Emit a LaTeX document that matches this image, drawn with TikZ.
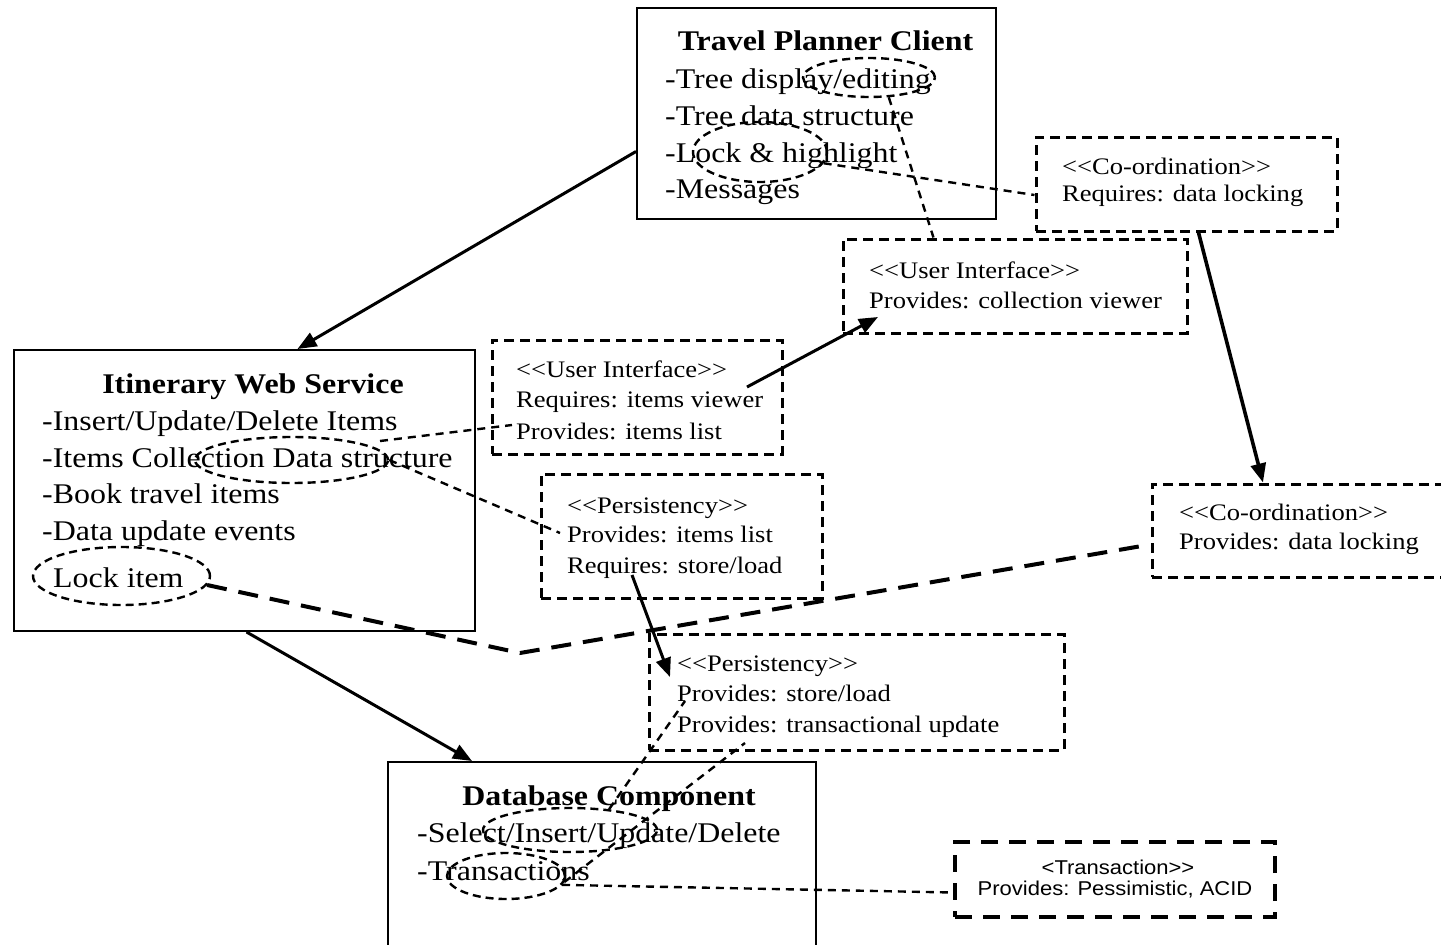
\documentclass[tikz,border=0pt]{standalone}
\usepackage{fontspec}
\setmainfont{Liberation Serif}[FakeStretch=1.12]
\newfontfamily\txsans{Liberation Sans}[FakeStretch=1.1]
\usetikzlibrary{shapes.geometric,arrows.meta,calc}
\begin{document}
\begin{tikzpicture}[x=1pt,y=-1pt,
  comp/.style={draw, rectangle, line width=2pt, inner sep=0pt},
  iface/.style={draw, rectangle, line width=3pt, dash pattern=on 10pt off 6pt, inner sep=0pt},
  txbox/.style={draw, rectangle, line width=4pt, dash pattern=on 17pt off 11pt, inner sep=0pt},
  hilite/.style={draw, ellipse, line width=2.4pt, dash pattern=on 8pt off 5pt, inner sep=0pt},
  link/.style={line width=2.4pt, dash pattern=on 8pt off 6pt},
  biglink/.style={line width=4pt, dash pattern=on 20pt off 12pt},
  dep/.style={line width=3pt, -{Triangle[length=19pt,width=15pt]}},
  bigtxt/.style={font=\fontsize{28.5}{33}\selectfont, anchor=base west, inner sep=0pt},
  titletxt/.style={font=\fontsize{28.5}{33}\selectfont\bfseries, anchor=base, inner sep=0pt},
  smalltxt/.style={font=\fontsize{23.7}{28}\selectfont, anchor=base west, inner sep=0pt},
  sanstxt/.style={font=\txsans\fontsize{20}{23}\selectfont, anchor=base, inner sep=0pt}]

\fill[white] (0,0) rectangle (1441,945);
\useasboundingbox (0,0) rectangle (1441,945);

% components
\node[comp, minimum width=359pt, minimum height=211pt] (tpc) at (816.5,113.5) {};
\node[comp, minimum width=461pt, minimum height=281pt] (iws) at (244.5,490.5) {};
\node[comp, minimum width=428pt, minimum height=198pt] (db) at (602,861) {};

% interfaces
\node[iface, minimum width=344pt, minimum height=94pt] (uir) at (1015,286) {};
\node[iface, minimum width=301pt, minimum height=94pt] (cor) at (1186.5,184) {};
\node[iface, minimum width=290pt, minimum height=114pt] (uil) at (637,397) {};
\node[iface, minimum width=281pt, minimum height=124pt] (pu) at (681.5,536) {};
\node[iface, minimum width=308pt, minimum height=93pt] (cop) at (1306,530.5) {};
\node[iface, minimum width=415pt, minimum height=116pt] (pl) at (856.5,692) {};
\node[txbox, minimum width=320pt, minimum height=75pt] (tr) at (1115,879.5) {};

% Travel Planner Client
\node[titletxt] (tpct) at (825.5,50) {Travel Planner Client};
\node[bigtxt] (tpc1) at (665,88) {-Tree display/editing};
\node[bigtxt] (tpc2) at (665,125) {-Tree data structure};
\node[bigtxt] (tpc3) at (665,162) {-Lock \& highlight};
\node[bigtxt] (tpc4) at (665,198) {-Messages};

% Itinerary Web Service
\node[titletxt] (iwst) at (253,393) {Itinerary Web Service};
\node[bigtxt] (iws1) at (42,430) {-Insert/Update/Delete Items};
\node[bigtxt] (iws2) at (42,467) {-Items Collection Data structure};
\node[bigtxt] (iws3) at (42,503) {-Book travel items};
\node[bigtxt] (iws4) at (42,540) {-Data update events};
\node[bigtxt] (iws5) at (53,587) {Lock item};

% Database Component
\node[titletxt] (dbt) at (609,805) {Database Component};
\node[bigtxt] (db1) at (417,842) {-Select/Insert/Update/Delete};
\node[bigtxt] (db2) at (417,880) {-Transactions};

% interface labels
\node[smalltxt] (uir1) at (869,278) {<{}<User Interface>{}>};
\node[smalltxt] (uir2) at (869,308) {Provides: collection viewer};
\node[smalltxt] (cor1) at (1062,174) {<{}<Co-ordination>{}>};
\node[smalltxt] (cor2) at (1062,201) {Requires: data locking};
\node[smalltxt] (uil1) at (516,377) {<{}<User Interface>{}>};
\node[smalltxt] (uil2) at (516,407) {Requires: items viewer};
\node[smalltxt] (uil3) at (516,439) {Provides: items list};
\node[smalltxt] (pu1) at (567,513) {<{}<Persistency>{}>};
\node[smalltxt] (pu2) at (567,542) {Provides: items list};
\node[smalltxt] (pu3) at (567,573) {Requires: store/load};
\node[smalltxt] (cop1) at (1179,520) {<{}<Co-ordination>{}>};
\node[smalltxt] (cop2) at (1179,549) {Provides: data locking};
\node[smalltxt] (pl1) at (677,671) {<{}<Persistency>{}>};
\node[smalltxt] (pl2) at (677,701) {Provides: store/load};
\node[smalltxt] (pl3) at (677,732) {Provides: transactional update};
\node[sanstxt] (tr1) at (1118,874) {<Transaction>{}>};
\node[sanstxt] (tr2) at (1115,895) {Provides: Pessimistic, ACID};

% highlighted features
\node[hilite, minimum width=132pt, minimum height=39pt] (e1) at (869,77.5) {};
\node[hilite, minimum width=134pt, minimum height=60pt] (e2) at (760,152) {};
\node[hilite, minimum width=193pt, minimum height=46pt] (e3) at (291.5,460) {};
\node[hilite, minimum width=177pt, minimum height=58pt] (e4) at (121.5,576) {};
\node[hilite, minimum width=174pt, minimum height=44pt] (e5) at (570,830) {};
\node[hilite, minimum width=118pt, minimum height=46pt] (e6) at (506,876) {};

% connector ends inside texts
\coordinate (e3ne) at (380,441);
\coordinate (uilp) at (512,425);
\coordinate (pup) at (560,533);
\coordinate (pls) at (685,701);
\coordinate (plt) at (745,743);
\coordinate (uilr) at (747,387);
\coordinate (uirp) at (878,317);
\coordinate (pur) at (632,575);
\coordinate (plr) at (670,677);
\coordinate (bend) at (520,653);

% feature-to-interface links
\draw[link] (e1.-45) -- ($(uir.north west)!0.265!(uir.north east)$);
\draw[link] (e2.-10) -- ([yshift=-11pt]cor.west);
\draw[link] (e3ne) -- (uilp);
\draw[link] (e3.east) -- (pup);
\draw[link] (e5.28) -- (pls);
\draw[link] (e6.-6) -- (plt);
\draw[link] (e6.-9) -- ([yshift=-13pt]tr.west);
\draw[biglink] (e4.-6) -- (bend) -- ([yshift=-14pt]cop.west);

% dependencies
\draw[dep] ([yshift=-38pt]tpc.west) -- ($(iws.north)+(53,0)$);
\draw[dep] ([xshift=2pt]iws.south) -- ($(db.north)+(-130,0)$);
\draw[dep] (uilr) -- (uirp);
\draw[dep, line width=3.6pt] ($(cor.south)+(12,0)$) -- ($(cop.north)+(-43,0)$);
\draw[dep] (pur) -- (plr);
\end{tikzpicture}
\end{document}
